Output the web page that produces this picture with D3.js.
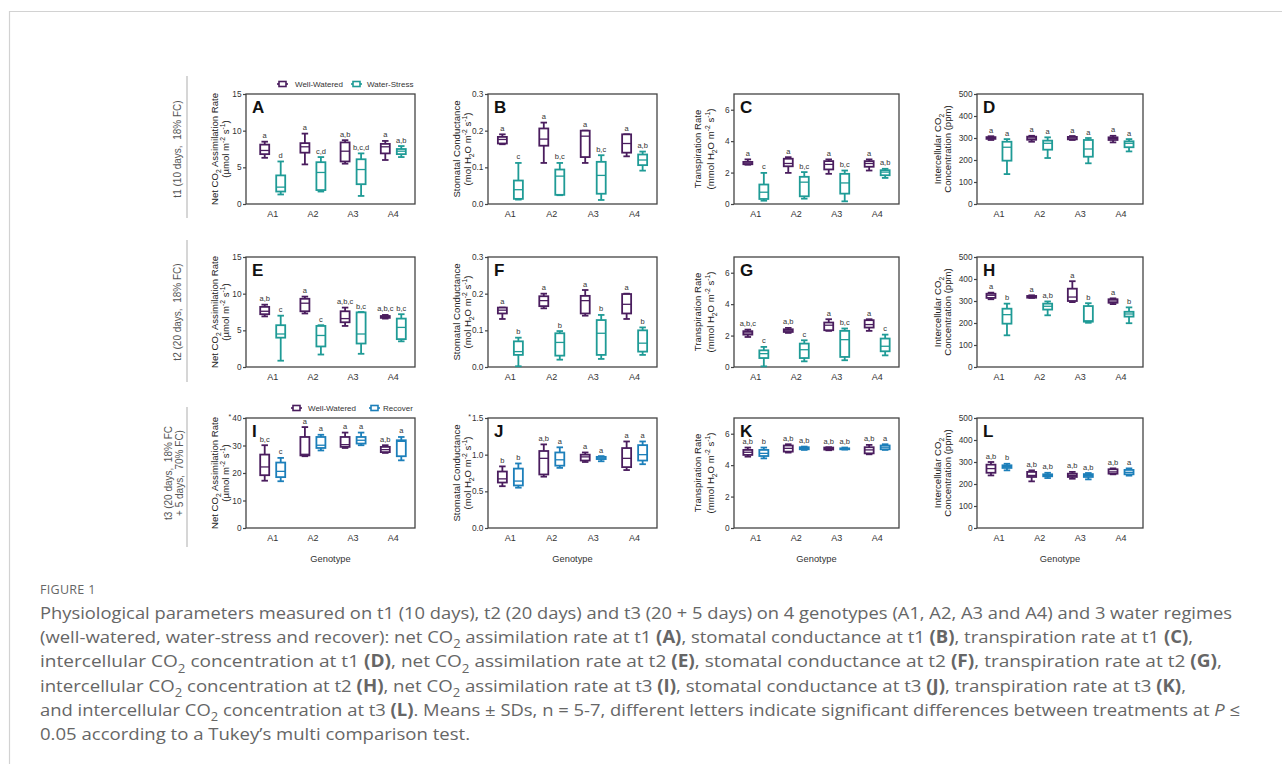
<!DOCTYPE html>
<html>
<head>
<meta charset="utf-8">
<script src="https://cdn.jsdelivr.net/npm/d3@7"></script>
<style>
  body { margin: 0; background: #fff; }
  svg { display: block; font-family: "Liberation Sans", Arial, sans-serif; }
</style>
</head>
<body>
<svg id="fig" width="1282" height="764"></svg>
<script>
// genotypes on the x axis
const genotypes = ["A1", "A2", "A3", "A4"];

// each box: [min, q1, median, q3, max]
// t1 (10 days, 18% FC)
const netT1WW = [[6.3, 6.8, 7.3, 8.1, 8.5], [5.4, 7.0, 7.8, 8.3, 9.6], [5.5, 5.8, 7.2, 8.4, 8.7], [6.0, 6.9, 7.8, 8.2, 8.6]];
const netT1WS = [[1.3, 1.7, 2.3, 3.9, 5.8], [1.7, 1.9, 4.3, 5.7, 6.4], [1.1, 2.7, 4.7, 6.1, 6.9], [6.4, 6.8, 7.2, 7.5, 7.9]];
const gsT1WW = [[0.163, 0.165, 0.176, 0.183, 0.19], [0.112, 0.159, 0.177, 0.206, 0.222], [0.112, 0.128, 0.185, 0.2, 0.2], [0.13, 0.14, 0.165, 0.19, 0.19]];
const gsT1WS = [[0.012, 0.014, 0.039, 0.064, 0.112], [0.024, 0.025, 0.076, 0.094, 0.112], [0.011, 0.028, 0.078, 0.115, 0.133], [0.091, 0.106, 0.12, 0.135, 0.143]];
const eT1WW = [[2.5, 2.53, 2.6, 2.68, 2.84], [1.98, 2.4, 2.58, 2.88, 2.98], [1.92, 2.2, 2.52, 2.73, 2.84], [2.13, 2.37, 2.58, 2.73, 2.84]];
const eT1WS = [[0.21, 0.32, 0.75, 1.24, 1.98], [0.34, 0.49, 1.39, 1.73, 2.03], [0.17, 0.66, 1.34, 1.92, 2.13], [1.66, 1.83, 2.03, 2.15, 2.24]];
const ciT1WW = [[291, 296, 300, 304, 308], [283, 292, 300, 306, 310], [291, 294, 300, 305, 309], [280, 291, 298, 303, 310]];
const ciT1WS = [[136, 197, 258, 283, 295], [209, 247, 276, 288, 303], [185, 215, 250, 291, 300], [239, 258, 276, 285, 295]];

// t2 (20 days, 18% FC)
const netT2WW = [[6.9, 7.2, 7.6, 8.2, 8.5], [7.3, 7.6, 8.7, 9.3, 9.6], [5.6, 6.1, 6.6, 7.6, 8.1], [6.6, 6.7, 6.9, 6.95, 7.1]];
const netT2WS = [[0.86, 4.0, 4.5, 5.7, 7.0], [1.7, 2.8, 4.3, 5.6, 5.7], [1.8, 3.2, 4.5, 7.45, 7.5], [3.5, 3.8, 5.4, 6.6, 7.2]];
const gsT2WW = [[0.131, 0.146, 0.155, 0.162, 0.162], [0.16, 0.166, 0.181, 0.193, 0.2], [0.14, 0.146, 0.181, 0.194, 0.21], [0.131, 0.146, 0.171, 0.199, 0.2]];
const gsT2WS = [[0.002, 0.033, 0.042, 0.07, 0.08], [0.02, 0.031, 0.067, 0.092, 0.098], [0.022, 0.033, 0.092, 0.128, 0.142], [0.033, 0.042, 0.065, 0.1, 0.108]];
const eT2WW = [[1.91, 2.06, 2.17, 2.28, 2.38], [2.17, 2.23, 2.34, 2.4, 2.49], [2.3, 2.34, 2.66, 2.83, 3.04], [2.3, 2.51, 2.7, 2.98, 3.04]];
const eT2WS = [[0.04, 0.57, 0.85, 1.06, 1.28], [0.36, 0.57, 1.1, 1.49, 1.7], [0.43, 0.64, 1.74, 2.3, 2.45], [0.74, 1.0, 1.32, 1.81, 2.06]];
const ciT2WW = [[308, 314, 326, 333, 338], [314, 315, 318, 323, 326], [295, 300, 318, 356, 390], [286, 292, 300, 308, 312]];
const ciT2WS = [[144, 197, 238, 265, 288], [235, 261, 276, 288, 298], [201, 206, 210, 277, 290], [199, 229, 241, 251, 271]];

// t3 (20 days 18% FC + 5 days 70% FC)
const netT3WW = [[17.2, 19.2, 22.2, 26.7, 30.1], [26.1, 26.4, 26.8, 33.1, 36.7], [29.1, 29.5, 30.3, 33.1, 34.7], [27.3, 27.6, 28.5, 29.5, 30.1]];
const netT3RC = [[17.0, 18.5, 20.6, 23.8, 25.5], [28.2, 29.1, 30.1, 33.1, 33.9], [30.1, 30.7, 31.9, 33.1, 34.7], [24.6, 26.1, 31.5, 31.9, 33.1]];
const gsT3WW = [[0.57, 0.62, 0.67, 0.77, 0.84], [0.70, 0.73, 0.95, 1.05, 1.14], [0.90, 0.92, 0.97, 1.0, 1.03], [0.79, 0.83, 0.95, 1.09, 1.18]];
const gsT3RC = [[0.55, 0.58, 0.64, 0.81, 0.88], [0.82, 0.85, 0.93, 1.03, 1.10], [0.91, 0.94, 0.955, 0.97, 0.98], [0.87, 0.92, 1.0, 1.13, 1.18]];
const eT3WW = [[4.54, 4.65, 4.82, 4.97, 5.12], [4.8, 4.86, 5.07, 5.25, 5.33], [4.95, 4.99, 5.05, 5.12, 5.14], [4.69, 4.75, 4.97, 5.14, 5.29]];
const eT3RC = [[4.43, 4.58, 4.75, 4.97, 5.12], [4.97, 5.01, 5.07, 5.14, 5.18], [4.99, 5.01, 5.04, 5.07, 5.12], [4.97, 5.01, 5.14, 5.25, 5.33]];
const ciT3WW = [[239, 251, 270, 288, 300], [212, 232, 239, 255, 262], [224, 232, 239, 247, 255], [244, 247, 255, 267, 271]];
const ciT3RC = [[262, 273, 280, 285, 292], [227, 235, 239, 244, 251], [221, 232, 239, 245, 250], [238, 244, 253, 264, 271]];

// Tukey letters
const lettersA = [["a", "a", "a,b", "a"], ["d", "c,d", "b,c,d", "a,b"]];
const lettersB = [["a", "a", "a", "a"], ["c", "b,c", "b,c", "a,b"]];
const lettersC = [["a", "a", "a", "a"], ["c", "b,c", "b,c", "a,b"]];
const lettersD = [["a", "a", "a", "a"], ["a", "a", "a", "a"]];
const lettersE = [["a,b", "a", "a,b,c", "a,b,c"], ["c", "c", "b,c", "b,c"]];
const lettersF = [["a", "a", "a", "a"], ["b", "b", "b", "b"]];
const lettersG = [["a,b,c", "a,b", "a", "a"], ["c", "c", "b,c", "c"]];
const lettersH = [["a", "a", "a", "a"], ["b", "a,b", "b", "b"]];
const lettersI = [["b,c", "a", "a", "a,b"], ["c", "a", "a", "a"]];
const lettersJ = [["b", "a,b", "a", "a"], ["b", "a", "a", "a"]];
const lettersK = [["a,b", "a,b", "a,b", "a,b"], ["b", "a,b", "a,b", "a"]];
const lettersL = [["a,b", "a,b", "a,b", "a,b"], ["b", "a,b", "a,b", "a"]];

// y axes
const netTicks = [0, 5, 10, 15];
const netT3Ticks = [0, 10, 20, 30, 40];
const gsTicks = [0, 0.1, 0.2, 0.3];
const gsT3Ticks = [0, 0.5, 1.0, 1.5];
const eTicks = [0, 2, 4, 6];
const ciTicks = [0, 100, 200, 300, 400, 500];

const rowLabels = [["t1 (10 days,  18% FC)"], ["t2 (20 days,  18% FC)"], ["t3 (20 days,  18% FC", "+ 5 days,  70% FC)"]];

const cPurple = "#4a1d5e", cTeal = "#1f9b96", cBlue = "#1c7fba";

const svg = d3.select("#fig");

// rich text helper: parts are strings or [text, style]
function rich(sel, parts, fs) {
  let shift = 0;
  parts.forEach(p => {
    const [t, st] = typeof p === "string" ? [p, ""] : p;
    const target = st === "sub" ? fs * 0.3 : st === "sup" ? -fs * 0.4 : 0;
    const ts = sel.append("tspan").attr("dy", target - shift).text(t);
    shift = target;
    if (st === "sub" || st === "sup") ts.attr("font-size", fs * 0.7);
    if (st === "b") ts.attr("font-weight", "bold");
    if (st === "i") ts.attr("font-style", "italic");
  });
}

// page frame
svg.append("path").attr("d", "M9.5,764 V11.5 H1282").attr("fill", "none").attr("stroke", "#d2d2d2").attr("stroke-width", 1.2);

const titles = {
  net: [["Net CO", ["2", "sub"], " Assimilation Rate"], ["(\u00b5mol m", ["-2", "sup"], " s", ["-1", "sup"], ")"]],
  gs: [["Stomatal Conductance"], ["(mol H", ["2", "sub"], "O m", ["-2", "sup"], " s", ["-1", "sup"], ")"]],
  e: [["Transpiration Rate"], ["(mmol H", ["2", "sub"], "O m", ["-2", "sup"], " s", ["-1", "sup"], ")"]],
  ci: [["Intercellular CO", ["2", "sub"]], ["Concentration (ppm)"]]
};

const colX = [246, 488, 734, 977];
const colW = [169, 169, 165, 166];
const colPad = [5, 0, 0, 0];
const rowY = [94, 257, 418];
const plotH = 110;
const titleOff = [[-28, -17], [-28, -17], [-33, -20], [-36, -26]];

const panels = [
  { id: "A", r: 0, c: 0, title: "net", domain: [0, 15], ticks: netTicks, fmt: d3.format("d"), sets: [netT1WW, netT1WS], letters: lettersA, colors: [cPurple, cTeal] },
  { id: "B", r: 0, c: 1, title: "gs", domain: [0, 0.3], ticks: gsTicks, fmt: d3.format(".1f"), sets: [gsT1WW, gsT1WS], letters: lettersB, colors: [cPurple, cTeal] },
  { id: "C", r: 0, c: 2, title: "e", domain: [0, 7], ticks: eTicks, fmt: d3.format("d"), sets: [eT1WW, eT1WS], letters: lettersC, colors: [cPurple, cTeal] },
  { id: "D", r: 0, c: 3, title: "ci", domain: [0, 500], ticks: ciTicks, fmt: d3.format("d"), sets: [ciT1WW, ciT1WS], letters: lettersD, colors: [cPurple, cTeal] },
  { id: "E", r: 1, c: 0, title: "net", domain: [0, 15], ticks: netTicks, fmt: d3.format("d"), sets: [netT2WW, netT2WS], letters: lettersE, colors: [cPurple, cTeal] },
  { id: "F", r: 1, c: 1, title: "gs", domain: [0, 0.3], ticks: gsTicks, fmt: d3.format(".1f"), sets: [gsT2WW, gsT2WS], letters: lettersF, colors: [cPurple, cTeal] },
  { id: "G", r: 1, c: 2, title: "e", domain: [0, 7], ticks: eTicks, fmt: d3.format("d"), sets: [eT2WW, eT2WS], letters: lettersG, colors: [cPurple, cTeal] },
  { id: "H", r: 1, c: 3, title: "ci", domain: [0, 500], ticks: ciTicks, fmt: d3.format("d"), sets: [ciT2WW, ciT2WS], letters: lettersH, colors: [cPurple, cTeal] },
  { id: "I", r: 2, c: 0, title: "net", domain: [0, 40], ticks: netT3Ticks, fmt: d3.format("d"), sets: [netT3WW, netT3RC], letters: lettersI, colors: [cPurple, cBlue], star: true },
  { id: "J", r: 2, c: 1, title: "gs", domain: [0, 1.5], ticks: gsT3Ticks, fmt: d3.format(".1f"), sets: [gsT3WW, gsT3RC], letters: lettersJ, colors: [cPurple, cBlue], star: true },
  { id: "K", r: 2, c: 2, title: "e", domain: [0, 7], ticks: eTicks, fmt: d3.format("d"), sets: [eT3WW, eT3RC], letters: lettersK, colors: [cPurple, cBlue] },
  { id: "L", r: 2, c: 3, title: "ci", domain: [0, 500], ticks: ciTicks, fmt: d3.format("d"), sets: [ciT3WW, ciT3RC], letters: lettersL, colors: [cPurple, cBlue] }
];

panels.forEach(p => {
  const w = colW[p.c], h = plotH;
  const g = svg.append("g").attr("transform", `translate(${colX[p.c]},${rowY[p.r]})`);
  const x = d3.scalePoint().domain(genotypes).range([colPad[p.c], w]).padding(0.54).align(0.5);
  const y = d3.scaleLinear().domain(p.domain).range([h, 0]);

  // y axis
  const ax = g.append("g").call(d3.axisLeft(y).tickValues(p.ticks).tickSize(3).tickPadding(1.5).tickFormat(p.fmt));
  ax.select(".domain").remove();
  ax.selectAll("line").attr("stroke", "#444").attr("stroke-width", 1.2);
  ax.selectAll("text").attr("font-family", "Liberation Sans, Arial, sans-serif").attr("font-size", 8.3).attr("fill", "#333");
  if (p.star) {
    const topLabel = ax.selectAll("text").filter(d => d === p.domain[1]);
    const tw = topLabel.node().getComputedTextLength();
    g.append("text").attr("x", -4.5 - tw - 1).attr("y", y(p.domain[1]) + 0.5).attr("text-anchor", "end")
      .attr("font-size", 7).attr("fill", "#333").text("*");
  }

  // frame
  g.append("rect").attr("width", w).attr("height", h).attr("fill", "none").attr("stroke", "#444").attr("stroke-width", 1.3);

  // x labels
  g.selectAll(".xl").data(genotypes).join("text")
    .attr("x", d => x(d)).attr("y", h + 12.5).attr("text-anchor", "middle")
    .attr("font-size", 9).attr("fill", "#333").text(d => d);

  // y title
  const cy = h / 2;
  titles[p.title].forEach((parts, li) => {
    const t = g.append("text").attr("text-anchor", "middle").attr("font-size", 9.6).attr("fill", "#222")
      .attr("transform", `translate(${titleOff[p.c][li]},${cy}) rotate(-90)`);
    rich(t, parts, 9.6);
  });

  // panel letter
  g.append("text").attr("x", 6).attr("y", 18.5).attr("font-size", 17).attr("font-weight", "bold").attr("fill", "#111").text(p.id);

  // boxes
  const bw = 9, cw = 6.5;
  p.sets.forEach((set, si) => {
    const off = si === 0 ? -8 : 8;
    const col = p.colors[si];
    const bg = g.append("g").attr("stroke", col).attr("stroke-width", 1.8).attr("fill", "#fff");
    set.forEach((v, i) => {
      const cx = x(genotypes[i]) + off;
      const [mn, q1, md, q3, mx] = v;
      bg.append("line").attr("x1", cx).attr("x2", cx).attr("y1", y(mx)).attr("y2", y(mn));
      bg.append("line").attr("x1", cx - cw / 2).attr("x2", cx + cw / 2).attr("y1", y(mx)).attr("y2", y(mx));
      bg.append("line").attr("x1", cx - cw / 2).attr("x2", cx + cw / 2).attr("y1", y(mn)).attr("y2", y(mn));
      bg.append("rect").attr("x", cx - bw / 2).attr("y", y(q3)).attr("width", bw).attr("height", Math.max(0.5, y(q1) - y(q3)));
      bg.append("line").attr("x1", cx - bw / 2).attr("x2", cx + bw / 2).attr("y1", y(md)).attr("y2", y(md)).attr("stroke-width", 1.3);
      g.append("text").attr("x", cx).attr("y", y(mx) - 3.5).attr("text-anchor", "middle")
        .attr("font-size", 7.5).attr("fill", "#333").text(p.letters[si][i]);
    });
  });

  if (p.r === 2) {
    g.append("text").attr("x", w / 2).attr("y", h + 33.5).attr("text-anchor", "middle")
      .attr("font-size", 9.3).attr("fill", "#333").text("Genotype");
  }
});

// row labels and separators
rowLabels.forEach((lines, r) => {
  const cy = rowY[r] + plotH / 2;
  const xs = lines.length === 1 ? [180.5] : [171.5, 182.5];
  lines.forEach((t, li) => {
    svg.append("text").attr("text-anchor", "middle").attr("font-size", 10).attr("fill", "#555")
      .style("white-space", "pre")
      .attr("transform", `translate(${xs[li]},${cy}) rotate(-90)`).text(t);
  });
});
[[76, 218], [240, 382], [407, 547]].forEach(([a, b]) => {
  svg.append("line").attr("x1", 187).attr("x2", 187).attr("y1", a).attr("y2", b).attr("stroke", "#bbb").attr("stroke-width", 1.2);
});

// legends
function legend(items, y) {
  items.forEach(([label, col, sx, tx]) => {
    const lg = svg.append("g").attr("stroke", col).attr("stroke-width", 1.6).attr("fill", "#fff");
    lg.append("line").attr("x1", sx).attr("x2", sx + 11).attr("y1", y).attr("y2", y);
    lg.append("rect").attr("x", sx + 2).attr("y", y - 2.5).attr("width", 7).attr("height", 5);
    svg.append("text").attr("x", tx).attr("y", y + 3).attr("font-size", 8).attr("fill", "#333").text(label);
  });
}
legend([["Well-Watered", cPurple, 277, 295], ["Water-Stress", cTeal, 351, 367]], 84);
legend([["Well-Watered", cPurple, 291, 308], ["Recover", cBlue, 369, 383]], 408);

// caption
const capFs = 17;
svg.append("text").attr("x", 40).attr("y", 594).attr("font-family", "Open Sans, sans-serif")
  .attr("font-size", 12.5).attr("fill", "#666").attr("letter-spacing", 0.3).text("FIGURE 1");
const capLines = [
  { w: 1192, parts: ["Physiological parameters measured on t1 (10 days), t2 (20 days) and t3 (20 + 5 days) on 4 genotypes (A1, A2, A3 and A4) and 3 water regimes"] },
  { w: 1153, parts: ["(well-watered, water-stress and recover): net CO", ["2", "sub"], " assimilation rate at t1 ", ["(A)", "b"], ", stomatal conductance at t1 ", ["(B)", "b"], ", transpiration rate at t1 ", ["(C)", "b"], ","] },
  { w: 1182, parts: ["intercellular CO", ["2", "sub"], " concentration at t1 ", ["(D)", "b"], ", net CO", ["2", "sub"], " assimilation rate at t2 ", ["(E)", "b"], ", stomatal conductance at t2 ", ["(F)", "b"], ", transpiration rate at t2 ", ["(G)", "b"], ","] },
  { w: 1146, parts: ["intercellular CO", ["2", "sub"], " concentration at t2 ", ["(H)", "b"], ", net CO", ["2", "sub"], " assimilation rate at t3 ", ["(I)", "b"], ", stomatal conductance at t3 ", ["(J)", "b"], ", transpiration rate at t3 ", ["(K)", "b"], ","] },
  { w: 1200, parts: ["and intercellular CO", ["2", "sub"], " concentration at t3 ", ["(L)", "b"], ". Means \u00b1 SDs, n = 5-7, different letters indicate significant differences between treatments at ", ["P", "i"], " \u2264"] },
  { w: 430, parts: ["0.05 according to a Tukey\u2019s multi comparison test."] }
];
capLines.forEach((ln, i) => {
  const t = svg.append("text").attr("x", 40).attr("y", 619 + i * 24.2)
    .attr("font-family", "Open Sans, sans-serif").attr("font-size", capFs).attr("fill", "#666")
    .attr("textLength", ln.w).attr("lengthAdjust", "spacingAndGlyphs");
  rich(t, ln.parts, capFs);
});
</script>
</body>
</html>
